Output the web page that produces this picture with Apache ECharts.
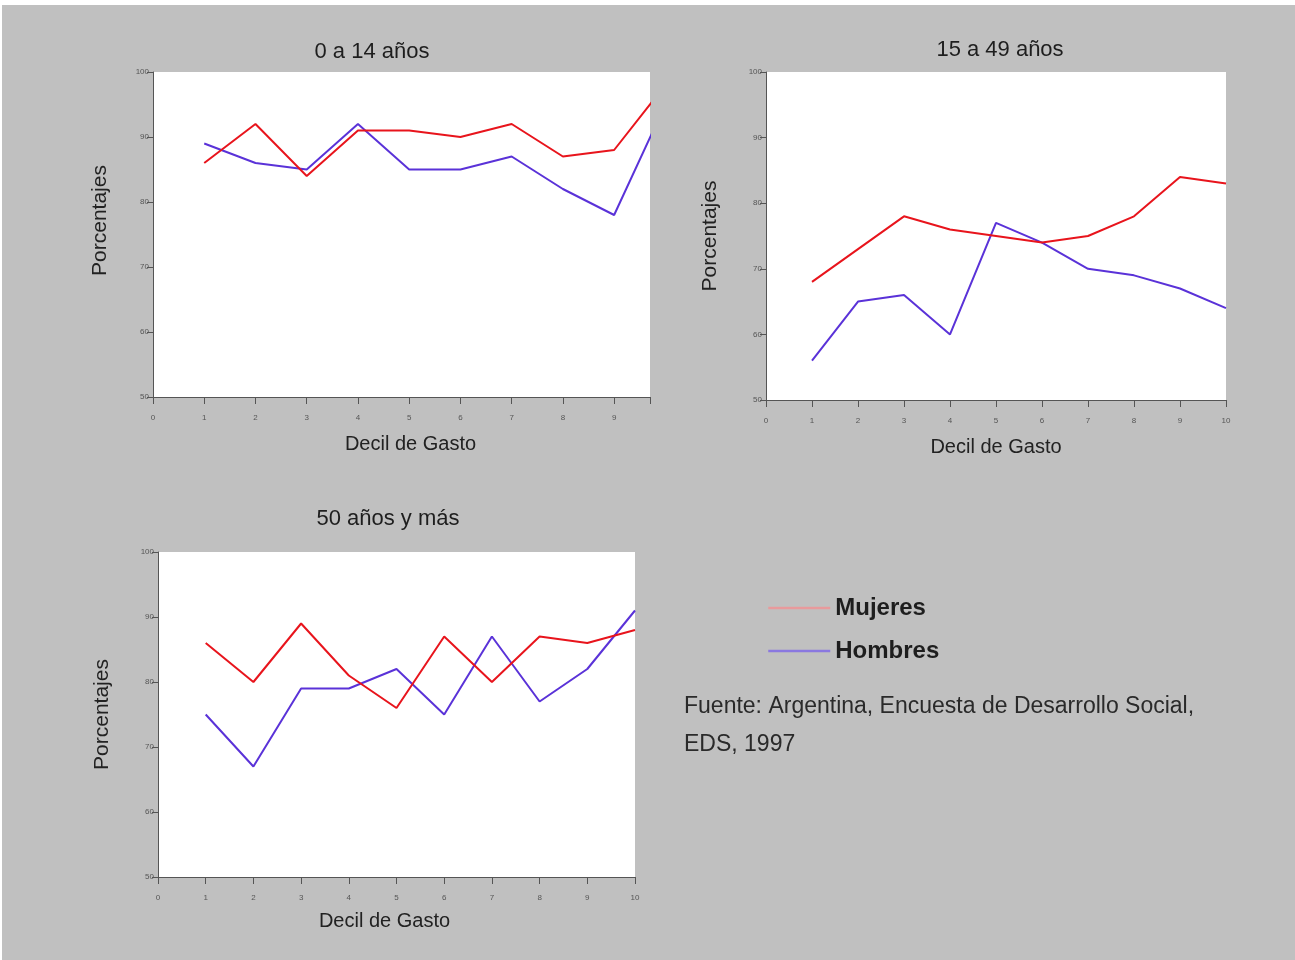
<!DOCTYPE html>
<html>
<head>
<meta charset="utf-8">
<script src="https://cdn.jsdelivr.net/npm/echarts@6/dist/echarts.min.js"></script>
<style>
  html, body { margin: 0; padding: 0; background: #ffffff; }
  #chart { width: 1295px; height: 960px; }
</style>
</head>
<body>
<div id="chart"></div>
<script>
// ---- Data ----
const deciles = [1, 2, 3, 4, 5, 6, 7, 8, 9, 10];
const xTicks = [0, 1, 2, 3, 4, 5, 6, 7, 8, 9, 10];
const yTicks = [50, 60, 70, 80, 90, 100];
const panelTitles = ['0 a 14 años', '15 a 49 años', '50 años y más'];
const seriesNames = ['Mujeres', 'Hombres'];

// 0 a 14 años
const mujeres0a14 = [86, 92, 84, 91, 91, 90, 92, 87, 88, 98];
const hombres0a14 = [89, 86, 85, 92, 85, 85, 87, 82, 78, 95];
// 15 a 49 años
const mujeres15a49 = [68, 73, 78, 76, 75, 74, 75, 78, 84, 83];
const hombres15a49 = [56, 65, 66, 60, 77, 74, 70, 69, 67, 64];
// 50 años y más
const mujeres50 = [86, 80, 89, 81, 76, 87, 80, 87, 86, 88];
const hombres50 = [75, 67, 79, 79, 82, 75, 87, 77, 82, 91];

const sourceLines = ['Fuente: Argentina, Encuesta de Desarrollo Social,', 'EDS, 1997'];

// ---- Styles ----
const RED = '#e8141c';
const BLUE = '#5a32d8';
const FONT = '"Liberation Sans", Arial, Helvetica, sans-serif';

const grids = [
  { left: 153, top: 72, width: 497, height: 325 },
  { left: 766, top: 72, width: 460, height: 328 },
  { left: 158, top: 552, width: 477, height: 325 }
];
const xMaxes = [9.7, 10, 10];
const nameGapsX = [37, 37, 34];
const xNamePad = [[0, 0, 0, 18], [0, 0, 0, 0], [0, 24, 0, 0]];
const nameGapsY = [42, 45, 45];
const yNamePad = [[0, 0, 0, 28], [0, 0, 0, 0], [0, 0, 0, 0]];
const data = [
  [mujeres0a14, hombres0a14],
  [mujeres15a49, hombres15a49],
  [mujeres50, hombres50]
];

function pairs(vals) { return deciles.map((d, i) => [d, vals[i]]); }

const xAxes = grids.map((g, i) => ({
  type: 'value', gridIndex: i, min: xTicks[0], max: xMaxes[i], interval: 1,
  name: 'Decil de Gasto', nameLocation: 'middle', nameGap: nameGapsX[i],
  nameTextStyle: { fontFamily: FONT, fontSize: 20, color: '#222', padding: xNamePad[i] },
  axisLine: { show: true, lineStyle: { color: '#555', width: 1 } },
  axisTick: { show: true, length: 7, lineStyle: { color: '#555' } },
  axisLabel: {
    fontFamily: FONT, fontSize: 8, color: '#555', margin: 17,
    formatter: v => (Number.isInteger(v) && xTicks.includes(v)) ? String(v) : ''
  },
  splitLine: { show: false }
}));

const yAxes = grids.map((g, i) => ({
  type: 'value', gridIndex: i, min: yTicks[0], max: yTicks[yTicks.length - 1], interval: 10,
  name: 'Porcentajes', nameLocation: 'middle', nameGap: nameGapsY[i],
  nameTextStyle: { fontFamily: FONT, fontSize: 21, color: '#222', padding: yNamePad[i] },
  axisLine: { show: true, lineStyle: { color: '#555', width: 1 } },
  axisTick: { show: true, length: 6, lineStyle: { color: '#555' } },
  axisLabel: { fontFamily: FONT, fontSize: 8, color: '#555', margin: 4 },
  splitLine: { show: false }
}));

const series = [];
data.forEach((pair, i) => {
  pair.forEach((vals, j) => {
    series.push({
      type: 'line', name: seriesNames[j], xAxisIndex: i, yAxisIndex: i,
      data: pairs(vals), symbol: 'none', clip: true,
      lineStyle: { color: j === 0 ? RED : BLUE, width: 2 },
      itemStyle: { color: j === 0 ? RED : BLUE },
      z: j === 0 ? 3 : 2
    });
  });
});

const titlePos = [[372, 52], [1000, 50], [388, 519]];

const graphic = [
  { type: 'rect', shape: { x: 2, y: 5, width: 1293, height: 955 }, style: { fill: '#c0c0c0' }, z: -10, silent: true }
];
grids.forEach(g => graphic.push({
  type: 'rect', shape: { x: g.left, y: g.top, width: g.width, height: g.height },
  style: { fill: '#ffffff' }, z: -5, silent: true
}));
panelTitles.forEach((t, i) => graphic.push({
  type: 'text', x: titlePos[i][0], y: titlePos[i][1],
  style: { text: t, fontFamily: FONT, fontSize: 22, fill: '#1e1e1e', textAlign: 'center', textVerticalAlign: 'middle' }
}));
sourceLines.forEach((t, i) => graphic.push({
  type: 'text', x: 684, y: 707 + i * 38,
  style: { text: t, fontFamily: FONT, fontSize: 23, fill: '#2a2a2a', textAlign: 'left', textVerticalAlign: 'middle' }
}));

const option = {
  backgroundColor: '#ffffff',
  animation: false,
  grid: grids.map(g => Object.assign({ containLabel: false }, g)),
  xAxis: xAxes,
  yAxis: yAxes,
  legend: {
    orient: 'vertical', left: 762, top: 591,
    itemWidth: 62, itemHeight: 14, itemGap: 19,
    textStyle: { fontFamily: FONT, fontSize: 24, fontWeight: 'bold', color: '#1e1e1e' },
    data: [
      { name: 'Mujeres', lineStyle: { color: '#e89a9c', width: 2.5 }, itemStyle: { color: '#e89a9c', opacity: 0 } },
      { name: 'Hombres', lineStyle: { color: '#8a78e0', width: 2.5 }, itemStyle: { color: '#8a78e0', opacity: 0 } }
    ]
  },
  graphic: graphic,
  series: series
};

const chart = echarts.init(document.getElementById('chart'), null, { renderer: 'canvas' });
chart.setOption(option);
</script>
</body>
</html>
